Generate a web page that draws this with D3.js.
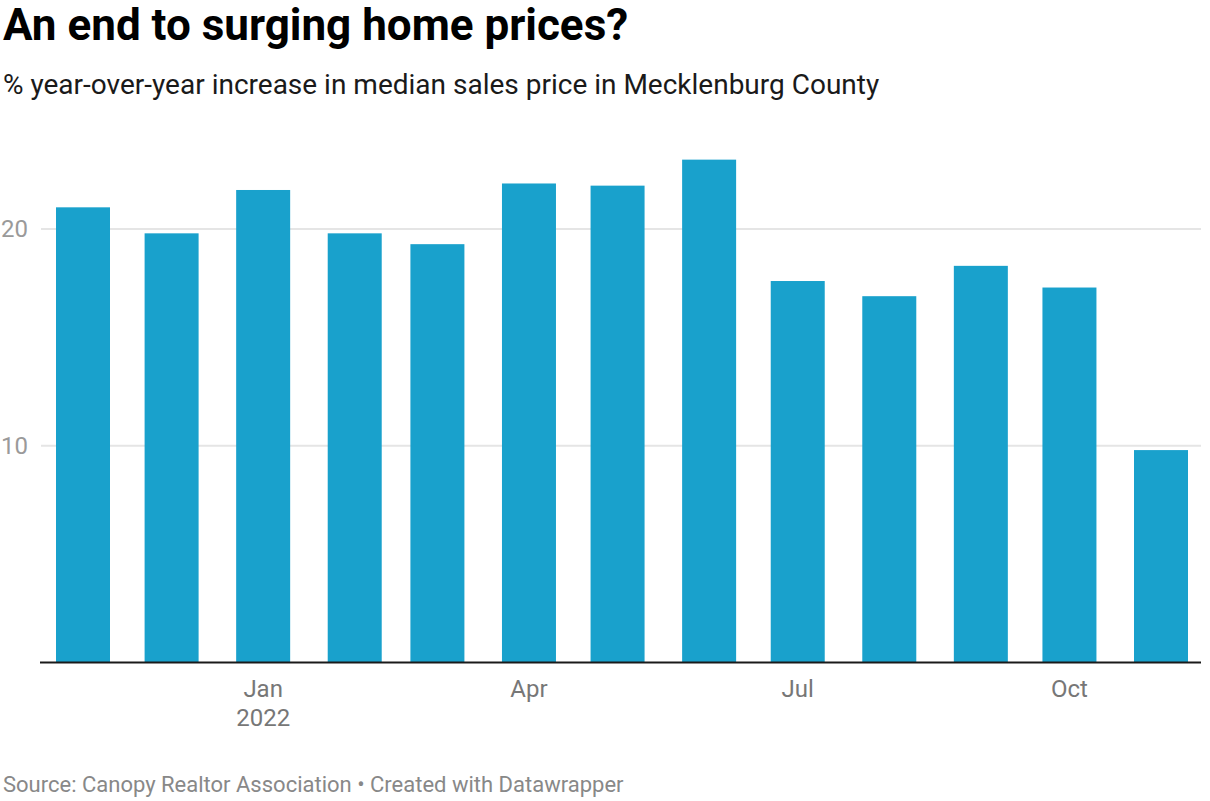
<!DOCTYPE html>
<html>
<head>
<meta charset="utf-8">
<script src="https://cdn.jsdelivr.net/npm/d3@7"></script>
<style>
  html, body { margin: 0; padding: 0; background: #fff; }
  svg { display: block; font-family: Roboto, "Noto Sans", sans-serif; }
</style>
</head>
<body>
<svg id="chart" width="1210" height="801"></svg>
<script>
const months = ["2021-11","2021-12","2022-01","2022-02","2022-03","2022-04","2022-05","2022-06","2022-07","2022-08","2022-09","2022-10","2022-11"];
const values = [21.0, 19.8, 21.8, 19.8, 19.3, 22.1, 22.0, 23.2, 17.6, 16.9, 18.3, 17.3, 9.8];
const yTicks = [10, 20];
const xTickMonths = ["2022-01","2022-04","2022-07","2022-10"];
const title = "An end to surging home prices?";
const subtitle = "% year-over-year increase in median sales price in Mecklenburg County";
const source = "Source: Canopy Realtor Association • Created with Datawrapper";

const parse = d3.timeParse("%Y-%m");
const dates = months.map(parse);

const svg = d3.select("#chart");

const x = d3.scaleTime()
  .domain([parse("2021-11"), parse("2022-11")])
  .range([83, 1161]);
const y = d3.scaleLinear().domain([0, 20]).range([662.5, 229]);
const barW = 54;
const plotLeft = 40, plotRight = 1201;

svg.append("text").attr("x", 3).attr("y", 40)
  .attr("font-size", 44).attr("font-weight", 700).attr("fill", "#000")
  .text(title);
svg.append("text").attr("x", 3).attr("y", 94)
  .attr("font-size", 28).attr("fill", "#1a1a1a")
  .text(subtitle);

// gridlines
const grid = svg.append("g");
grid.selectAll("line").data(yTicks).join("line")
  .attr("x1", 41).attr("x2", plotRight)
  .attr("y1", d => y(d)).attr("y2", d => y(d))
  .attr("stroke", "#e5e5e5").attr("stroke-width", 2);
grid.selectAll("text").data(yTicks).join("text")
  .attr("x", 28).attr("y", d => y(d)).attr("dy", "0.35em")
  .attr("text-anchor", "end").attr("font-size", 24).attr("fill", "#9a9a9a")
  .text(d => d);

// bars
svg.append("g").selectAll("rect").data(values).join("rect")
  .attr("x", (d, i) => x(dates[i]) - barW / 2)
  .attr("width", barW)
  .attr("y", d => y(d))
  .attr("height", d => y(0) - y(d))
  .attr("fill", "#19a1cc");

// baseline
svg.append("line")
  .attr("x1", plotLeft).attr("x2", plotRight)
  .attr("y1", y(0)).attr("y2", y(0))
  .attr("stroke", "#1a1a1a").attr("stroke-width", 2);

// x axis labels
const xt = svg.append("g");
const fmtM = d3.timeFormat("%b");
xTickMonths.map(parse).forEach(d => {
  xt.append("text").attr("x", x(d)).attr("y", 697)
    .attr("text-anchor", "middle").attr("font-size", 24).attr("fill", "#777")
    .text(fmtM(d));
  if (d.getMonth() === 0) {
    xt.append("text").attr("x", x(d)).attr("y", 726)
      .attr("text-anchor", "middle").attr("font-size", 24).attr("fill", "#777")
      .text(d3.timeFormat("%Y")(d));
  }
});

svg.append("text").attr("x", 3).attr("y", 792)
  .attr("font-size", 22).attr("fill", "#888")
  .text(source);
</script>
</body>
</html>
